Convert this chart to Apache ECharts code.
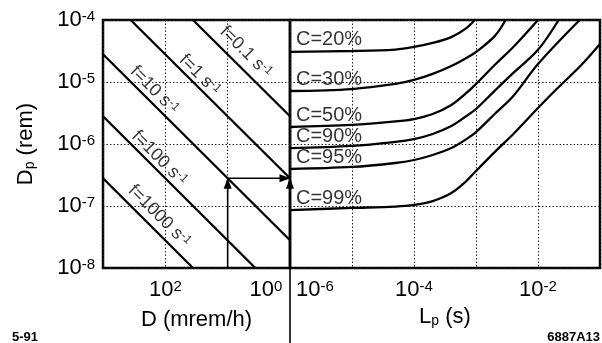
<!DOCTYPE html>
<html><head><meta charset="utf-8">
<script src="https://cdn.jsdelivr.net/npm/echarts@6/dist/echarts.min.js"></script>
<style>html,body{margin:0;padding:0;background:#fff}#c{width:602px;height:343px}</style>
</head><body><div id="c"></div>
<script>
const FONT = "'Liberation Sans', Arial, Helvetica, sans-serif";

// ---- Left panel: Dp (rem) vs D (mrem/h), one straight line per frequency f ----
const freqs = ['0.1', '1', '10', '100', '1000'];
const fLine01 = [[36, 1e-4], [1, 2.8e-6]];
const fLine1 = [[360, 1e-4], [1, 2.8e-7]];
const fLine10 = [[1000, 2.8e-5], [1, 2.8e-8]];
const fLine100 = [[1000, 2.8e-6], [3.6, 1e-8]];
const fLine1000 = [[1000, 2.8e-7], [36, 1e-8]];
const fLabelAt = [[5.1, 3.05e-5], [28, 1.3e-5], [150, 7.4e-6], [125, 5.9e-7], [125, 6.9e-8]];

// ---- Right panel: Dp (rem) vs Lp (s), one curve per confidence C ----
const cNames = ['C=20%', 'C=30%', 'C=50%', 'C=90%', 'C=95%', 'C=99%'];
const c20 = [[1e-6, 3.05e-5], [1e-5, 3.16e-5], [5e-5, 3.34e-5], [1e-4, 3.67e-5], [2e-4, 4.26e-5], [4e-4, 5.3e-5], [7e-4, 7.4e-5], [9.5e-4, 1e-4]];
const c30 = [[1e-6, 7.16e-6], [1e-5, 7.7e-6], [5e-5, 9.3e-6], [1e-4, 1.08e-5], [2e-4, 1.35e-5], [4e-4, 1.81e-5], [7e-4, 2.44e-5], [1e-3, 3.05e-5], [2e-3, 5.5e-5], [3e-3, 1e-4]];
const c50 = [[1e-6, 1.88e-6], [1e-5, 2.03e-6], [5e-5, 2.31e-6], [1e-4, 2.53e-6], [2e-4, 3.05e-6], [4e-4, 4.26e-6], [7e-4, 6.65e-6], [1e-3, 9.3e-6], [2e-3, 1.88e-5], [4e-3, 3.67e-5], [1e-2, 1e-4]];
const c90 = [[1e-6, 8.6e-7], [1e-5, 9.3e-7], [5e-5, 1.08e-6], [1e-4, 1.2e-6], [2e-4, 1.45e-6], [4e-4, 1.95e-6], [7e-4, 2.83e-6], [1e-3, 3.67e-6], [2e-3, 7.2e-6], [4e-3, 1.4e-5], [1e-2, 3.3e-5], [2.15e-2, 1e-4]];
const c95 = [[1e-6, 3.95e-7], [1e-5, 4.26e-7], [5e-5, 4.94e-7], [1e-4, 5.52e-7], [2e-4, 6.65e-7], [4e-4, 8.6e-7], [7e-4, 1.2e-6], [1e-3, 1.56e-6], [2e-3, 3.05e-6], [4e-3, 5.95e-6], [1e-2, 1.95e-5], [4.7e-2, 1e-4]];
const c99 = [[1e-6, 8.6e-8], [1e-5, 9.3e-8], [5e-5, 9.8e-8], [1e-4, 1.04e-7], [2e-4, 1.2e-7], [4e-4, 1.62e-7], [7e-4, 2.53e-7], [1e-3, 3.67e-7], [2e-3, 7.4e-7], [4e-3, 1.45e-6], [1e-2, 3.81e-6], [2e-2, 7.7e-6], [5e-2, 1.88e-5], [1e-1, 4.1e-5]];

// ---- Worked example arrows (D = 10 mrem/h, f = 10 s-1) ----
const arrowUp = [[10, 1e-8], [10, 2.8e-7]];
const arrowAcross = [[10, 2.8e-7], [1, 2.8e-7]];
const arrowDivider = [[1e-6, 6e-10], [1e-6, 2.8e-7]];

// ---- tick label exponents ----
const yTickExp = [-8, -7, -6, -5, -4];
const dTickExp = [2, 0];
const lTickExp = [-6, -4, -2];

const chart = echarts.init(document.getElementById('c'), null, {renderer: 'canvas'});

const base = {fontFamily: FONT, color: '#000'};
const supRich = {
  b: Object.assign({fontSize: 22, lineHeight: 22, verticalAlign: 'bottom'}, base),
  s: Object.assign({fontSize: 15, lineHeight: 12, verticalAlign: 'top'}, base),
  s0: Object.assign({fontSize: 15, lineHeight: 12, verticalAlign: 'top', padding: [0, 48, 0, 0]}, base),
  b6: Object.assign({fontSize: 22, lineHeight: 22, verticalAlign: 'bottom', padding: [0, 0, 0, 50]}, base)
};
const nameRich = {
  b: Object.assign({fontSize: 22, lineHeight: 22, verticalAlign: 'bottom'}, base),
  sub: Object.assign({fontSize: 14, lineHeight: 8, verticalAlign: 'bottom'}, base)
};
const grid = {type: [1.5, 2], color: '#222', width: 1};
const exp = v => Math.round(Math.log10(v));

function lineSeries(data, xi) {
  return {type: 'line', xAxisIndex: xi, yAxisIndex: xi, data: data, showSymbol: false, symbol: 'none',
    lineStyle: {color: '#000', width: 2.3}, silent: true, z: 3};
}
function curveSeries(data) {
  return {type: 'line', xAxisIndex: 1, yAxisIndex: 1, data: data, showSymbol: false, symbol: 'none',
    smooth: 0.35, lineStyle: {color: '#000', width: 2.3}, silent: true, z: 3};
}
function arrowSeries(data, xi, rot, off) {
  const d = data.map((p, i) => i === data.length - 1
    ? {value: p, symbol: 'triangle', symbolSize: [8, 11], symbolRotate: rot, symbolOffset: off}
    : {value: p, symbol: 'none'});
  return {type: 'line', xAxisIndex: xi, yAxisIndex: xi, data: d, showSymbol: true, clip: false,
    lineStyle: {color: '#000', width: 1.6}, itemStyle: {color: '#000'}, silent: true, z: 4};
}

const fLines = [fLine01, fLine1, fLine10, fLine100, fLine1000];
const cCurves = [c20, c30, c50, c90, c95, c99];

const series = [];
fLines.forEach(l => series.push(lineSeries(l, 0)));
cCurves.forEach(c => series.push(curveSeries(c)));
series.push(arrowSeries(arrowUp, 0, 0, [0, 5]));
series.push(arrowSeries(arrowAcross, 0, -90, [-5, 0]));
series.push(arrowSeries(arrowDivider, 1, 0, [0, 5]));
// f labels (rotated along the lines)
series.push({type: 'scatter', xAxisIndex: 0, yAxisIndex: 0, symbolSize: 0, silent: true, z: 5,
  data: fLabelAt.map((p, i) => ({value: p, name: freqs[i]})),
  label: {show: true, position: 'inside', rotate: -45, align: 'center', verticalAlign: 'middle',
    formatter: p => '{a|f=' + p.name + ' s}{s|-1}',
    rich: {a: Object.assign({fontSize: 18, lineHeight: 18, verticalAlign: 'bottom'}, base),
           s: Object.assign({fontSize: 12, lineHeight: 10, verticalAlign: 'top'}, base)}}});
// C labels, just above the start of each curve
series.push({type: 'scatter', xAxisIndex: 1, yAxisIndex: 1, symbolSize: 0, silent: true, z: 5,
  data: cCurves.map((c, i) => ({value: c[0], name: cNames[i]})),
  label: {show: true, position: 'right', distance: 6, offset: [0, -12], formatter: p => p.name,
    fontSize: 20, fontFamily: FONT, color: '#000'}});

const option = {
  animation: false,
  backgroundColor: '#fff',
  grid: [
    {left: 103, top: 20, width: 187, height: 248, show: true, borderColor: '#000', borderWidth: 2.5, backgroundColor: 'transparent', containLabel: false, outerBoundsMode: 'none'},
    {left: 290, top: 20, width: 310, height: 248, show: true, borderColor: '#000', borderWidth: 2.5, backgroundColor: 'transparent', containLabel: false, outerBoundsMode: 'none'}
  ],
  xAxis: [
    {type: 'log', gridIndex: 0, min: 1, max: 1000, inverse: true,
      axisLine: {show: false}, axisTick: {show: false}, splitLine: {show: true, lineStyle: grid},
      axisLabel: {margin: 11, rich: supRich, formatter: v => {
        const e = exp(v);
        if (dTickExp.indexOf(e) < 0) return '';
        return e === 0 ? '{b|10}{s0|0}' : '{b|10}{s|' + e + '}';
      }},
      name: '{b|D (mrem/h)}', nameLocation: 'middle', nameGap: 41, nameTextStyle: {rich: nameRich}},
    {type: 'log', gridIndex: 1, min: 1e-6, max: 1e-1,
      axisLine: {show: false}, axisTick: {show: false}, splitLine: {show: true, lineStyle: grid},
      axisLabel: {margin: 11, rich: supRich, formatter: v => {
        const e = exp(v);
        if (lTickExp.indexOf(e) < 0) return '';
        return e === -6 ? '{b6|10}{s|-6}' : '{b|10}{s|' + e + '}';
      }},
      name: '{b|L}{sub|p}{b| (s)}', nameLocation: 'middle', nameGap: 38, nameTextStyle: {rich: nameRich}}
  ],
  yAxis: [
    {type: 'log', gridIndex: 0, min: 1e-8, max: 1e-4,
      axisLine: {show: false}, axisTick: {show: false}, splitLine: {show: true, lineStyle: grid},
      axisLabel: {margin: 8, rich: supRich, formatter: v => {
        const e = exp(v);
        return yTickExp.indexOf(e) < 0 ? '' : '{b|10}{s|' + e + '}';
      }},
      name: '{b|D}{sub|p}{b| (rem)}', nameLocation: 'middle', nameRotate: 90, nameGap: 66, nameTextStyle: {rich: nameRich}},
    {type: 'log', gridIndex: 1, min: 1e-8, max: 1e-4,
      axisLine: {show: false}, axisTick: {show: false}, axisLabel: {show: false}, splitLine: {show: true, lineStyle: grid}}
  ],
  graphic: [
    {type: 'text', left: 12, top: 331, style: {text: '5-91', font: 'bold 13px ' + FONT, fill: '#000'}},
    {type: 'text', right: 2, top: 331, style: {text: '6887A13', font: 'bold 13px ' + FONT, fill: '#000'}}
  ],
  series: series
};
chart.setOption(option);
</script>
</body></html>
